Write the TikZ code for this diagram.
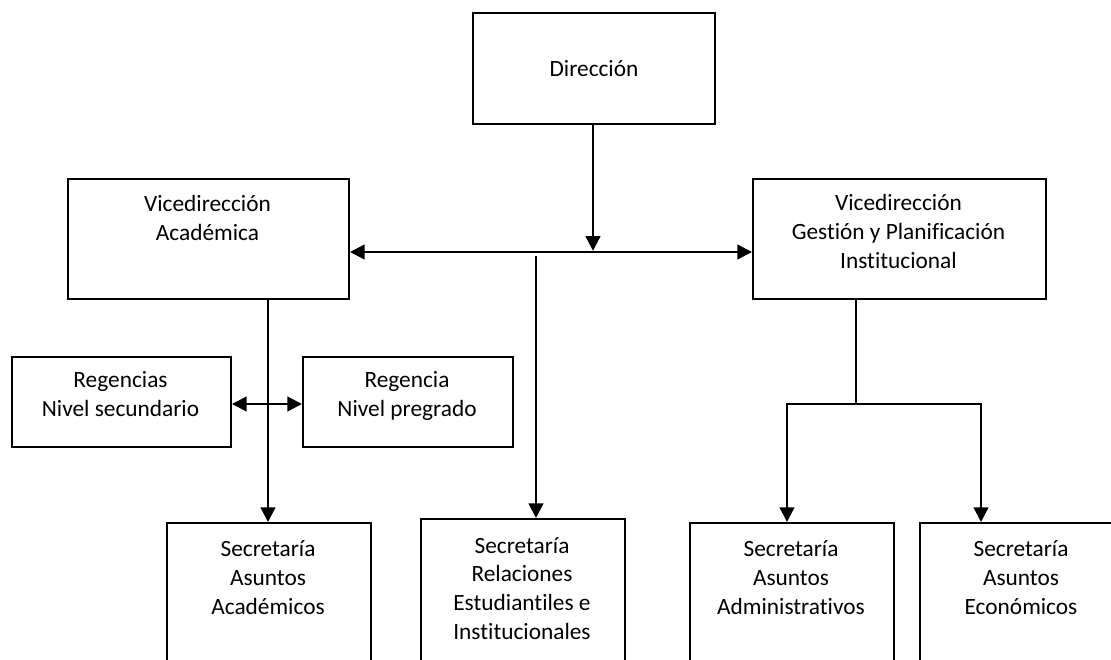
\documentclass[tikz,border=0pt]{standalone}
\usepackage{fontspec}
\setmainfont{Carlito}[Ligatures=NoCommon,Contextuals=NoAlternate]
\usetikzlibrary{arrows.meta}
\begin{document}
\begin{tikzpicture}[x=0.75pt,y=-0.75pt,
  box/.style 2 args={draw,line width=1.5pt,anchor=north west,inner sep=0pt,minimum width=#1*0.75pt,minimum height=#2*0.75pt},
  lbl/.style={align=center,inner sep=0pt,anchor=base,font=\fontsize{17.5}{21.5}\selectfont},
  conn/.style={line width=1.7pt},
  arr/.style={conn,-{Triangle[length=11pt,width=11pt]}},
  darr/.style={conn,{Triangle[length=11pt,width=11pt]}-{Triangle[length=11pt,width=11pt]}}]
\useasboundingbox (0,0) rectangle (1111,660);
% boxes
\node[box={242}{111},font=\fontsize{17.5}{21.5}\selectfont] (dir) at (472,12) {Dirección};
\node[box={281}{120}] (va) at (67,178) {};
\node[box={293}{120}] (vg) at (752,178) {};
\node[box={219}{90}] (rs) at (11,356) {};
\node[box={210}{90}] (rp) at (302,356) {};
\node[box={204}{190}] (s1) at (166,522) {};
\node[box={204}{190}] (s2) at (420,518) {};
\node[box={204}{190}] (s3) at (689,522) {};
\node[box={204}{190}] (s4) at (919,522) {};
% labels (anchor = baseline of last line)
\node[lbl] (vat) at (207.5,240) {Vicedirección\\Académica};
\node[lbl] (vgt) at (898.5,268) {Vicedirección\\Gestión y Planificación\\Institucional};
\node[lbl] (rst) at (120.5,416) {Regencias\\Nivel secundario};
\node[lbl] (rpt) at (407,416) {Regencia\\Nivel pregrado};
\node[lbl] (s1t) at (268,614) {Secretaría\\Asuntos\\Académicos};
\node[lbl] (s2t) at (522,639) {Secretaría\\Relaciones\\Estudiantiles e\\Institucionales};
\node[lbl] (s3t) at (791,614) {Secretaría\\Asuntos\\Administrativos};
\node[lbl] (s4t) at (1021,614) {Secretaría\\Asuntos\\Económicos};
% junction coordinates
\coordinate (j1) at (593,252);
\coordinate (m0) at (536,256);
\coordinate (lx) at (268,404);
\coordinate (rj) at (856,404);
\coordinate (a3) at (787,0);
\coordinate (a4) at (981,0);
% connectors
\draw[arr] (dir.south -| j1) -- ([yshift=0.9pt]j1);
\draw[darr] (va.east |- j1) -- (vg.west |- j1);
\draw[arr] (m0) -- (m0 |- s2.north);
\draw[arr] (va.south -| lx) -- (s1.north -| lx);
\draw[darr] (rs.east |- lx) -- (rp.west |- lx);
\draw[conn] (vg.south -| rj) -- (rj);
\draw[arr] (rj) -| (s3.north -| a3);
\draw[arr] (rj) -| (s4.north -| a4);
\end{tikzpicture}
\end{document}
